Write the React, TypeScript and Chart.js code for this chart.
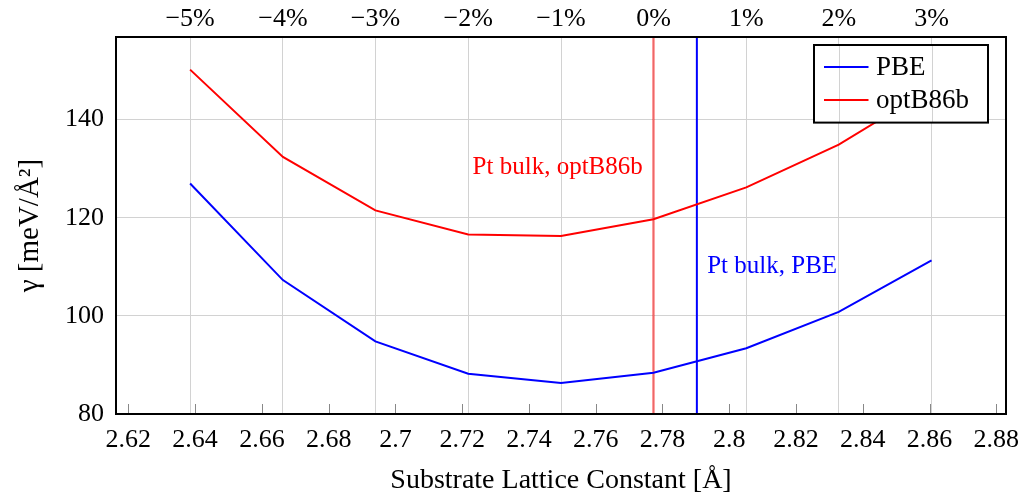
import React, { useEffect, useRef } from 'react';
import { Chart, registerables } from 'chart.js';

Chart.register(...registerables);

// ---- data ----
const latticeConstants = [2.6385, 2.6663, 2.694, 2.7218, 2.7496, 2.7773, 2.8051, 2.8328, 2.8606];
const strainLabels = ['−5%', '−4%', '−3%', '−2%', '−1%', '0%', '1%', '2%', '3%'];
const gammaPBE = [127.0, 107.3, 94.8, 88.2, 86.3, 88.4, 93.4, 100.8, 111.3];
const gammaOptB86b = [150.2, 132.4, 121.5, 116.6, 116.3, 119.7, 126.2, 134.9, 146.4];
const bottomTickValues = [2.62, 2.64, 2.66, 2.68, 2.7, 2.72, 2.74, 2.76, 2.78, 2.8, 2.82, 2.84, 2.86, 2.88];
const yTickValues = [80, 100, 120, 140];
const bulkOptB86b = 2.7773;
const bulkPBE = 2.7903;

const X_MIN = 2.6163;
const X_MAX = 2.8829;
const Y_MIN = 80;
const Y_MAX = 156.85;

const FONT = "'Liberation Serif', 'Times New Roman', serif";
const GRID = '#d2d2d2';
const BLUE = '#0000ff';
const RED = '#ff0000';

const annotations = [
  { text: 'Pt bulk, optB86b', x: 2.7741, y: 128.9, align: 'right', color: RED },
  { text: 'Pt bulk, PBE', x: 2.7934, y: 108.74, align: 'left', color: BLUE },
];

const decorPlugin = {
  id: 'decor',
  afterDatasetsDraw(chart: any) {
    const { ctx, chartArea: a, scales } = chart;
    const xs = scales.x;
    const ys = scales.y;
    const x2 = scales.x2;
    ctx.save();
    // annotations
    ctx.font = `25px ${FONT}`;
    ctx.textBaseline = 'alphabetic';
    for (const n of annotations) {
      ctx.fillStyle = n.color;
      ctx.textAlign = n.align as CanvasTextAlign;
      ctx.fillText(n.text, xs.getPixelForValue(n.x), ys.getPixelForValue(n.y));
    }
    // legend box
    const lw = 174;
    const lh = 77.6;
    const lx = a.right - 18 - lw;
    const ly = a.top + 8;
    ctx.fillStyle = '#ffffff';
    ctx.fillRect(lx, ly, lw, lh);
    // top-axis grid drawn over legend
    ctx.save();
    ctx.beginPath();
    ctx.rect(lx, ly, lw, lh);
    ctx.clip();
    ctx.strokeStyle = GRID;
    ctx.lineWidth = 1;
    for (const t of x2.ticks) {
      const px = Math.round(x2.getPixelForValue(t.value)) + 0.5;
      ctx.beginPath();
      ctx.moveTo(px, ly);
      ctx.lineTo(px, ly + lh);
      ctx.stroke();
    }
    ctx.restore();
    ctx.strokeStyle = '#000';
    ctx.lineWidth = 2;
    ctx.strokeRect(lx, ly, lw, lh);
    const entries = chart.data.datasets.filter((d: any) => d.inLegend);
    entries.forEach((d: any, i: number) => {
      const yy = ly + 22 + i * 33;
      ctx.strokeStyle = d.borderColor;
      ctx.lineWidth = 2;
      ctx.beginPath();
      ctx.moveTo(lx + 10, yy);
      ctx.lineTo(lx + 54.5, yy);
      ctx.stroke();
      ctx.fillStyle = '#000';
      ctx.font = `27px ${FONT}`;
      ctx.textAlign = 'left';
      ctx.textBaseline = 'middle';
      ctx.fillText(d.label, lx + 62, yy + 1);
    });
    ctx.restore();
  },
  afterDraw(chart: any) {
    const { ctx, chartArea: a, scales } = chart;
    ctx.save();
    // inward tick marks on bottom axis
    ctx.strokeStyle = '#888';
    ctx.lineWidth = 1;
    for (const t of scales.x.ticks) {
      const px = Math.round(scales.x.getPixelForValue(t.value)) + 0.5;
      ctx.beginPath();
      ctx.moveTo(px, a.bottom);
      ctx.lineTo(px, a.bottom - 10);
      ctx.stroke();
    }
    // frame
    ctx.strokeStyle = '#000';
    ctx.lineWidth = 2;
    ctx.strokeRect(a.left, a.top, a.right - a.left, a.bottom - a.top);
    ctx.restore();
  },
};

const noSidePadding = (s: any) => {
  s.paddingLeft = 0;
  s.paddingRight = 0;
};

export default function App() {
  const canvasRef = useRef<HTMLCanvasElement | null>(null);

  useEffect(() => {
    if (!canvasRef.current) return;
    const chart = new Chart(canvasRef.current, {
      type: 'line',
      data: {
        datasets: [
          {
            label: 'PBE',
            inLegend: true,
            data: latticeConstants.map((x, i) => ({ x, y: gammaPBE[i] })),
            borderColor: BLUE,
            borderWidth: 2,
            pointRadius: 0,
            tension: 0,
          },
          {
            label: 'optB86b',
            inLegend: true,
            data: latticeConstants.map((x, i) => ({ x, y: gammaOptB86b[i] })),
            borderColor: RED,
            borderWidth: 2,
            pointRadius: 0,
            tension: 0,
          },
          {
            label: 'Pt bulk, optB86b',
            data: [
              { x: bulkOptB86b, y: Y_MIN },
              { x: bulkOptB86b, y: Y_MAX },
            ],
            borderColor: 'rgba(255,0,0,0.5)',
            borderWidth: 2.5,
            pointRadius: 0,
          },
          {
            label: 'Pt bulk, PBE',
            data: [
              { x: bulkPBE, y: Y_MIN },
              { x: bulkPBE, y: Y_MAX },
            ],
            borderColor: BLUE,
            borderWidth: 2,
            pointRadius: 0,
          },
        ] as any,
      },
      options: {
        animation: false,
        responsive: true,
        maintainAspectRatio: false,
        layout: { padding: { left: 0, right: 16, top: 0, bottom: 0 } },
        plugins: { legend: { display: false }, tooltip: { enabled: false } },
        scales: {
          x: {
            type: 'linear',
            position: 'bottom',
            min: X_MIN,
            max: X_MAX,
            afterBuildTicks: (s: any) => {
              s.ticks = bottomTickValues.map((v) => ({ value: v }));
            },
            afterFit: (s: any) => {
              s.height = 84;
              noSidePadding(s);
            },
            ticks: {
              callback: (v: any) => String(Number(Number(v).toFixed(2))),
              font: { family: FONT, size: 26 },
              color: '#000',
              padding: 3,
              maxRotation: 0,
              autoSkip: false,
            },
            grid: { display: false },
            border: { display: false },
            title: {
              display: true,
              text: 'Substrate Lattice Constant [Å]',
              font: { family: FONT, size: 28 },
              color: '#000',
              padding: { top: 0, bottom: 1 },
            },
          },
          x2: {
            type: 'linear',
            position: 'top',
            min: X_MIN,
            max: X_MAX,
            afterBuildTicks: (s: any) => {
              s.ticks = latticeConstants.map((v) => ({ value: v }));
            },
            afterFit: (s: any) => {
              s.height = 37;
              noSidePadding(s);
            },
            ticks: {
              callback: (_v: any, i: number) => strainLabels[i],
              font: { family: FONT, size: 26 },
              color: '#000',
              padding: 2,
              maxRotation: 0,
              autoSkip: false,
            },
            grid: { color: GRID, lineWidth: 1, drawTicks: false },
            border: { display: false },
          },
          y: {
            type: 'linear',
            min: Y_MIN,
            max: Y_MAX,
            afterBuildTicks: (s: any) => {
              s.ticks = yTickValues.map((v) => ({ value: v }));
            },
            afterFit: (s: any) => {
              s.width = 116;
              s.paddingTop = 0;
              s.paddingBottom = 0;
            },
            ticks: {
              font: { family: FONT, size: 26 },
              color: '#000',
              padding: 12,
            },
            grid: { color: GRID, lineWidth: 1, drawTicks: false },
            border: { display: false },
            title: {
              display: true,
              text: 'γ [meV/Å²]',
              font: { family: FONT, size: 29 },
              color: '#000',
              padding: { top: 13, bottom: 0 },
            },
          },
        },
      } as any,
      plugins: [decorPlugin],
    });
    return () => chart.destroy();
  }, []);

  return (
    <div style={{ position: 'absolute', left: 0, top: 0, width: 1022, height: 498, background: '#fff' }}>
      <canvas ref={canvasRef} />
    </div>
  );
}
